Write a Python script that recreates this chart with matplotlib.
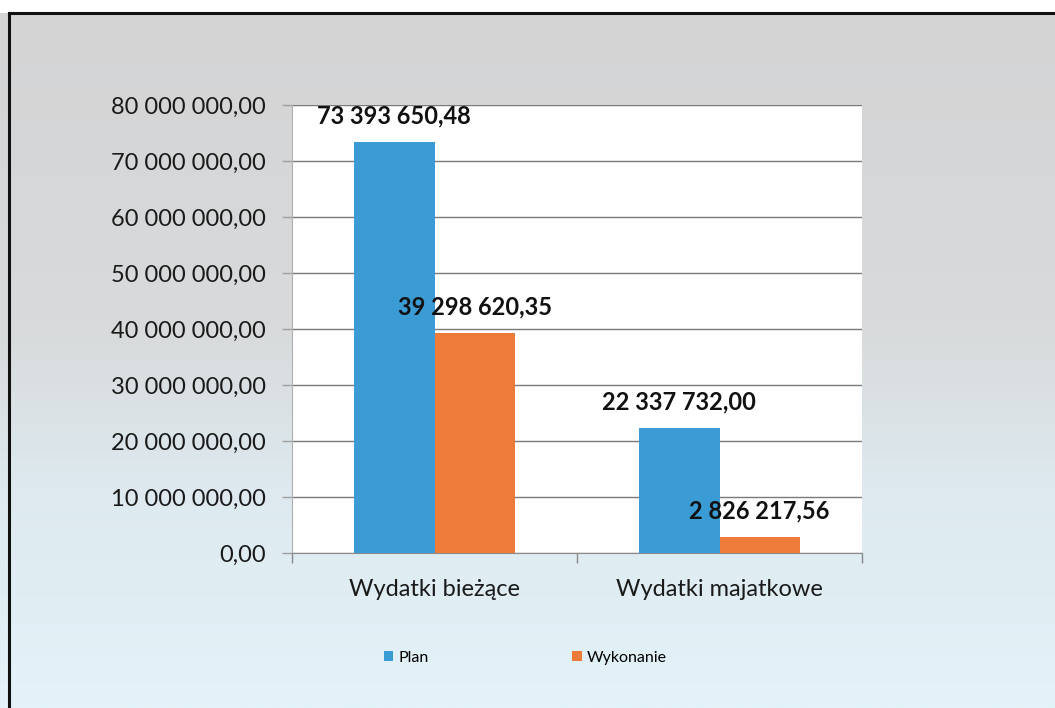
import numpy as np
import matplotlib.pyplot as plt
from matplotlib.ticker import FuncFormatter
from matplotlib.colors import LinearSegmentedColormap

# dane
kategorie = ['Wydatki bieżące', 'Wydatki majatkowe']
plan = [73393650.48, 22337732.00]
wykonanie = [39298620.35, 2826217.56]
seria_nazwy = ['Plan', 'Wykonanie']

kolor_plan = '#3a9bd5'
kolor_wyk = '#ef7b3a'

plt.rcParams['font.family'] = ['Lato', 'DejaVu Sans']


def pl_format(v, pos=None):
    return f'{v:,.2f}'.replace(',', ' ').replace('.', ',')


fig = plt.figure(figsize=(10.55, 7.08), dpi=100)

# tlo z gradientem (szary -> jasnoniebieski)
bg = fig.add_axes([0, 0, 1, 1], zorder=0)
top_frac = 1 - 13 / 708
grad_cmap = LinearSegmentedColormap.from_list(
    'tlo', [(0.0, '#d4d4d5'), (0.45, '#d8dadb'), (0.68, '#dde9ee'), (1.0, '#e3f3f9')])
grad = np.linspace(0, 1, 256).reshape(-1, 1)
bg.imshow(grad, aspect='auto', cmap=grad_cmap, extent=[0, 1, 0, top_frac], origin='upper')
bg.set_xlim(0, 1)
bg.set_ylim(0, 1)
bg.axis('off')
# ramka
bg.plot([9 / 1055, 9 / 1055], [0, top_frac], color='#111111', lw=2.2)
bg.plot([9 / 1055, 1], [top_frac, top_frac], color='#111111', lw=2.2)

ax = fig.add_axes([292 / 1055, 1 - 553 / 708, 570 / 1055, 448 / 708], zorder=1)
ax.set_facecolor('white')

x = np.arange(len(kategorie))
w = 0.282
b1 = ax.bar(x - w / 2, plan, width=w, color=kolor_plan, label=seria_nazwy[0], zorder=3)
b2 = ax.bar(x + w / 2, wykonanie, width=w, color=kolor_wyk, label=seria_nazwy[1], zorder=3)

for bars in (b1, b2):
    for r in bars:
        ax.annotate(pl_format(r.get_height()), (r.get_x() + r.get_width() / 2, r.get_height()),
                    xytext=(0, 19), textcoords='offset points', ha='center', va='center',
                    fontsize=17, fontweight='bold', color='#111111', zorder=5)

ax.set_ylim(0, 80000000)
ax.set_xlim(-0.5, 1.5)
ax.set_yticks(np.arange(0, 80000001, 10000000))
ax.yaxis.set_major_formatter(FuncFormatter(pl_format))
ax.yaxis.grid(True, color='#7a7a7a', lw=1.0, zorder=1)
ax.tick_params(axis='y', length=7, width=1, color='#a0a0a0', labelsize=17,
               labelcolor='#1a1a1a', pad=12)

ax.set_xticks(x)
ax.set_xticklabels(kategorie)
ax.set_xticks([-0.5, 0.5, 1.5], minor=True)
ax.tick_params(axis='x', which='major', length=0, labelsize=17, labelcolor='#1a1a1a', pad=19)
ax.tick_params(axis='x', which='minor', length=7, width=1, color='#8a8a8a')

for s in ['top', 'right']:
    ax.spines[s].set_visible(False)
ax.spines['left'].set_color('#b0b0b0')
ax.spines['bottom'].set_color('#8a8a8a')

fig.legend(handles=[b1, b2], labels=seria_nazwy, loc='center', bbox_to_anchor=(525 / 1055, 1 - 658 / 708),
           ncol=2, frameon=False, fontsize=11.5, handlelength=0.6, handleheight=0.6,
           handletextpad=0.3, columnspacing=9.0)

fig.savefig('out.png', dpi=100)
